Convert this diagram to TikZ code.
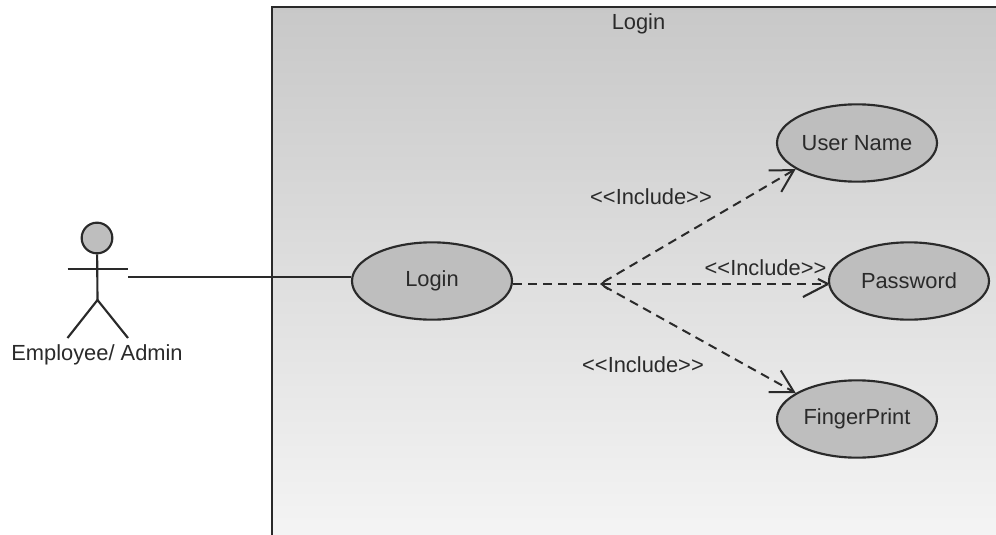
\documentclass[tikz,border=0pt]{standalone}
\usepackage{fontspec}
\setmainfont{Liberation Sans}[Ligatures=NoCommon]
\usetikzlibrary{arrows.meta,shapes.geometric,calc}
\definecolor{ink}{HTML}{2A2A2A}
\definecolor{ufill}{HTML}{BEBEBE}
\definecolor{gtop}{HTML}{C8C8C8}
\definecolor{gbot}{HTML}{F4F4F4}
\newcommand{\incltext}{{<}\kern0pt{<}Include{>}\kern0pt{>}}
\tikzset{
  lbl/.style={font=\fontsize{16.4pt}{19pt}\selectfont,text=ink,inner sep=0pt},
  usecase/.style={ellipse,draw=ink,line width=1.6pt,fill=ufill,minimum width=120pt,minimum height=58pt,inner sep=0pt,font=\fontsize{16.4pt}{19pt}\selectfont,text=ink},
  solidline/.style={draw=ink,line width=1.6pt},
  incl/.style={draw=ink,line width=1.5pt,dash pattern=on 6.75pt off 4.5pt},
  opentip/.style={-{Straight Barb[length=16.5pt,width=18.6pt,line width=1.5pt]}},
}
\begin{document}
\begin{tikzpicture}[x=0.75pt,y=-0.75pt]
\useasboundingbox (0,0) rectangle (996,535);
\fill[white] (0,0) rectangle (996,535);
\shade[top color=gtop,bottom color=gbot] (272,7) rectangle (996,535);
\draw[draw=ink,line width=1.8pt] (272,535) -- (272,7) -- (996,7);
\node[lbl] (title) at (638.5,24) {Login};
% actor
\node[circle,draw=ink,line width=1.6pt,fill=ufill,minimum size=23pt,inner sep=0pt] (head) at (97,238) {};
\coordinate (hip) at (97.5,300);
\coordinate (armL) at (67.5,269);
\coordinate (armR) at (128,269);
\coordinate (footL) at (67.5,338);
\coordinate (footR) at (128,338);
\draw[solidline] (head) -- (hip);
\draw[solidline] (armL) -- (armR);
\draw[solidline] (footL) -- (hip) -- (footR);
\node[lbl] (actor) at (97,354.5) {Employee/ Admin};
% use cases
\node[usecase] (login) at (432,281) {\raisebox{-0.75pt}{Login}};
\node[usecase] (user) at (857,143) {User Name};
\node[usecase] (pass) at (909,281) {Password};
\node[usecase] (finger) at (857,419) {\raisebox{-0.75pt}{FingerPrint}};
\coordinate (hand) at (128,277);
\coordinate (hub) at (600,284);
\coordinate (passtip) at (pass.west |- hub);
\draw[solidline] (hand) -- (login.west |- hand);
\draw[incl] (login.east |- hub) -- (hub);
\draw[incl,{Straight Barb[length=5pt,width=8pt,line width=1.2pt]}-] (hub) -- (passtip);
\draw[solidline] (passtip) -- ++(-25,13);
\draw[solidline] (passtip) -- ++(-10,-5);
\draw[incl,dash phase=8pt,opentip] (hub) -- (user.203);
\draw[incl,dash phase=8pt,opentip] (hub) -- (finger.157);
\node[lbl] (i1) at (651,196.5) {\incltext};
\node[lbl] (i2) at (765.5,267.5) {\incltext};
\node[lbl] (i3) at (643,364.5) {\incltext};
\end{tikzpicture}
\end{document}
